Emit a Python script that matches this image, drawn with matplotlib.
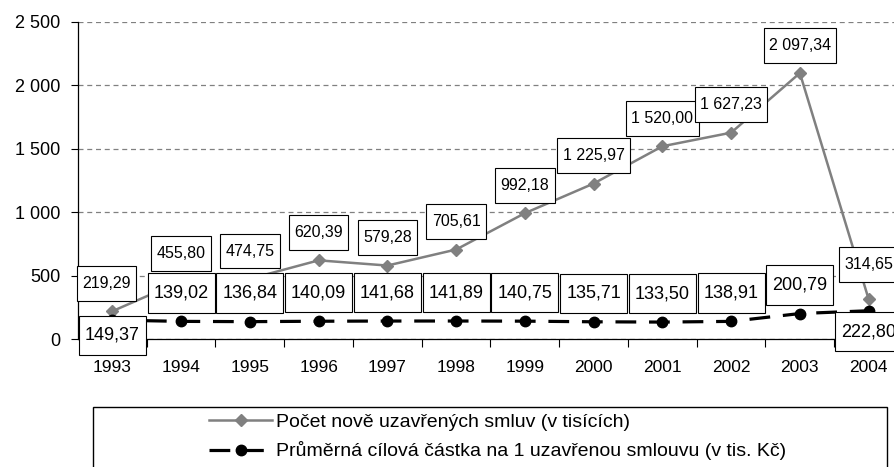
import matplotlib.pyplot as plt
from matplotlib.patches import Rectangle
from matplotlib.path import Path
from matplotlib.ticker import FuncFormatter, FixedLocator

plt.rcParams['font.family'] = ['Liberation Sans', 'DejaVu Sans']

# data
years = ['1993', '1994', '1995', '1996', '1997', '1998', '1999', '2000',
         '2001', '2002', '2003', '2004']
pocet = [219.29, 455.80, 474.75, 620.39, 579.28, 705.61, 992.18, 1225.97,
         1520.00, 1627.23, 2097.34, 314.65]
prumer = [149.37, 139.02, 136.84, 140.09, 141.68, 141.89, 140.75, 135.71,
          133.50, 138.91, 200.79, 222.80]
label_pocet = 'Počet nově uzavřených smluv (v tisících)'
label_prumer = 'Průměrná cílová částka na 1 uzavřenou smlouvu (v tis. Kč)'


def cz(v, dec=2):
    s = f'{v:,.{dec}f}'
    return s.replace(',', ' ').replace('.', ',')


def label_box(x0, y0, width, height, mutation_size):
    # square box, more padding top/bottom than left/right
    px = 0.33 * mutation_size
    py = 0.62 * mutation_size
    x0, y0 = x0 - px, y0 - py
    x1, y1 = x0 + width + 2 * px, y0 + height + 2 * py
    return Path([(x0, y0), (x1, y0), (x1, y1), (x0, y1), (x0, y0)],
                closed=True)


fig = plt.figure(figsize=(8.94, 4.67), dpi=100)
ax = fig.add_axes([78 / 894, 1 - 339 / 467, 825 / 894, 317 / 467])

x = list(range(len(years)))
l1, = ax.plot(x, pocet, color='#808080', lw=1.8, marker='D', ms=6.5,
              zorder=3)
l2, = ax.plot(x, prumer, color='black', lw=2.3, marker='o', ms=7.5,
              dashes=(6.5, 4), zorder=3)

box = dict(boxstyle=label_box, fc='white', ec='black', lw=0.8)

# labels of the grey series, above the points
for i, v in enumerate(pocet):
    dx = -4 if i == 0 else 0
    dy = 25 if i == len(pocet) - 1 else 20
    ax.annotate(cz(v), (i, v), xytext=(dx, dy), textcoords='offset points',
                ha='center', va='center', fontsize=11.5, bbox=box,
                zorder=5, annotation_clip=False)

# labels of the black series
for i, v in enumerate(prumer):
    if i == 0:
        dy = -11
    elif i == len(prumer) - 1:
        dy = -15
    else:
        dy = 20.5
    ax.annotate(cz(v), (i, v), xytext=(0, dy), textcoords='offset points',
                ha='center', va='center', fontsize=13, bbox=box,
                zorder=5, annotation_clip=False)

ax.set_xlim(-0.5, 11.5)
ax.set_ylim(0, 2500)
ax.set_yticks([0, 500, 1000, 1500, 2000, 2500])
ax.yaxis.set_major_formatter(FuncFormatter(lambda v, p: cz(v, 0)))
ax.set_xticks(x)
ax.set_xticklabels(years)
ax.xaxis.set_minor_locator(FixedLocator([i + 0.5 for i in range(11)]))
ax.tick_params(axis='x', which='major', length=0, labelsize=12.5, pad=15)
ax.tick_params(axis='x', which='minor', length=6, width=0.8, direction='out')
ax.tick_params(axis='y', length=5, width=0.8, labelsize=13, pad=7.5)
ax.grid(axis='y', color='#808080', ls=(0, (4, 3)), lw=0.9, zorder=0)
ax.spines['top'].set_visible(False)
ax.spines['right'].set_visible(False)
for s in ['left', 'bottom']:
    ax.spines[s].set_linewidth(0.9)

# legend box
fig.add_artist(Rectangle((93 / 894, -0.1), 794 / 894, 1 - 407 / 467 + 0.1,
                         transform=fig.transFigure, fill=False,
                         ec='black', lw=1))
fig.legend([l1, l2], [label_pocet, label_prumer], loc='upper left',
           bbox_to_anchor=(209 / 894, 1 - 413 / 467), frameon=False,
           fontsize=14, handlelength=3.25, handletextpad=0.2,
           labelspacing=0.55, borderpad=0, borderaxespad=0, numpoints=1)

fig.savefig('out.png', dpi=100)
